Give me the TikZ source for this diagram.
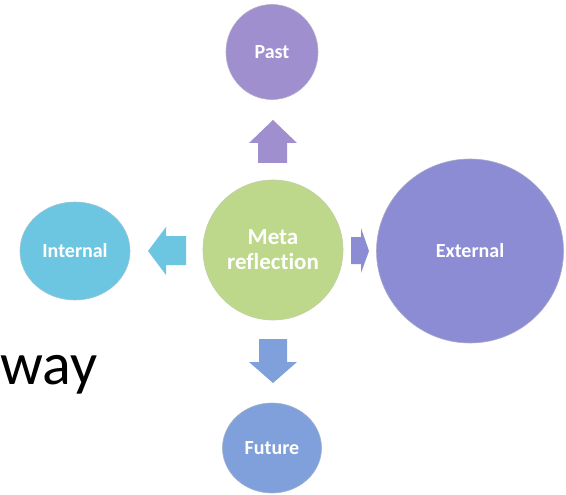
\documentclass[tikz,border=0pt]{standalone}
\usepackage{fontspec}
\setmainfont{Carlito}
\usetikzlibrary{shapes.geometric}
\definecolor{pastc}{RGB}{160,143,207}
\definecolor{metac}{RGB}{189,216,138}
\definecolor{intc}{RGB}{108,198,226}
\definecolor{extc}{RGB}{140,140,212}
\definecolor{futc}{RGB}{127,160,218}
\begin{document}
\begin{tikzpicture}[x=1pt,y=-1pt,
  bub/.style={ellipse, inner sep=0pt, text=white, font=\fontsize{20}{24}\selectfont\bfseries\addfontfeature{Ligatures=NoCommon}, align=center, line width=0.6pt}]
\useasboundingbox (0,0) rectangle (566,495);
\fill[white] (0,0) rectangle (566,495);
\node[bub, fill=pastc, draw=pastc!80!black!60!white, minimum width=92pt, minimum height=95pt] (past) at (272,52) {Past};
\node[bub, fill=metac, draw=metac!80!black!60!white, minimum width=140pt, minimum height=140pt, font=\fontsize{23}{25}\selectfont\bfseries\addfontfeature{Ligatures=NoCommon}] (meta) at (273,250) {Meta\\reflection};
\node[bub, fill=intc, draw=intc!80!black!60!white, minimum width=110pt, minimum height=98pt] (int) at (75,251) {Internal};
\node[bub, fill=extc, draw=extc!80!black!60!white, minimum width=187pt, minimum height=184pt] (ext) at (470,251) {External};
\node[bub, fill=futc, draw=futc!80!black!60!white, minimum width=99pt, minimum height=90pt] (fut) at (272,448) {Future};
\node[anchor=base west, inner sep=0pt, font=\fontsize{60}{60}\selectfont] (way) at (0,384) {way};
% block arrows
\fill[pastc] (273,120) -- (297,143) -- (287,143) -- (287,163) -- (258,163) -- (258,143) -- (249,143) -- cycle;
\fill[intc] (148,251) -- (166,227) -- (166,236) -- (186,236) -- (186,265) -- (166,265) -- (166,275) -- cycle;
\fill[extc] (369,251) -- (361,228) -- (361,237) -- (351,237) -- (351,264) -- (361,264) -- (361,273) -- cycle;
\fill[futc] (273,383) -- (297,362) -- (287,362) -- (287,339) -- (259,339) -- (259,362) -- (249,362) -- cycle;
\end{tikzpicture}
\end{document}
